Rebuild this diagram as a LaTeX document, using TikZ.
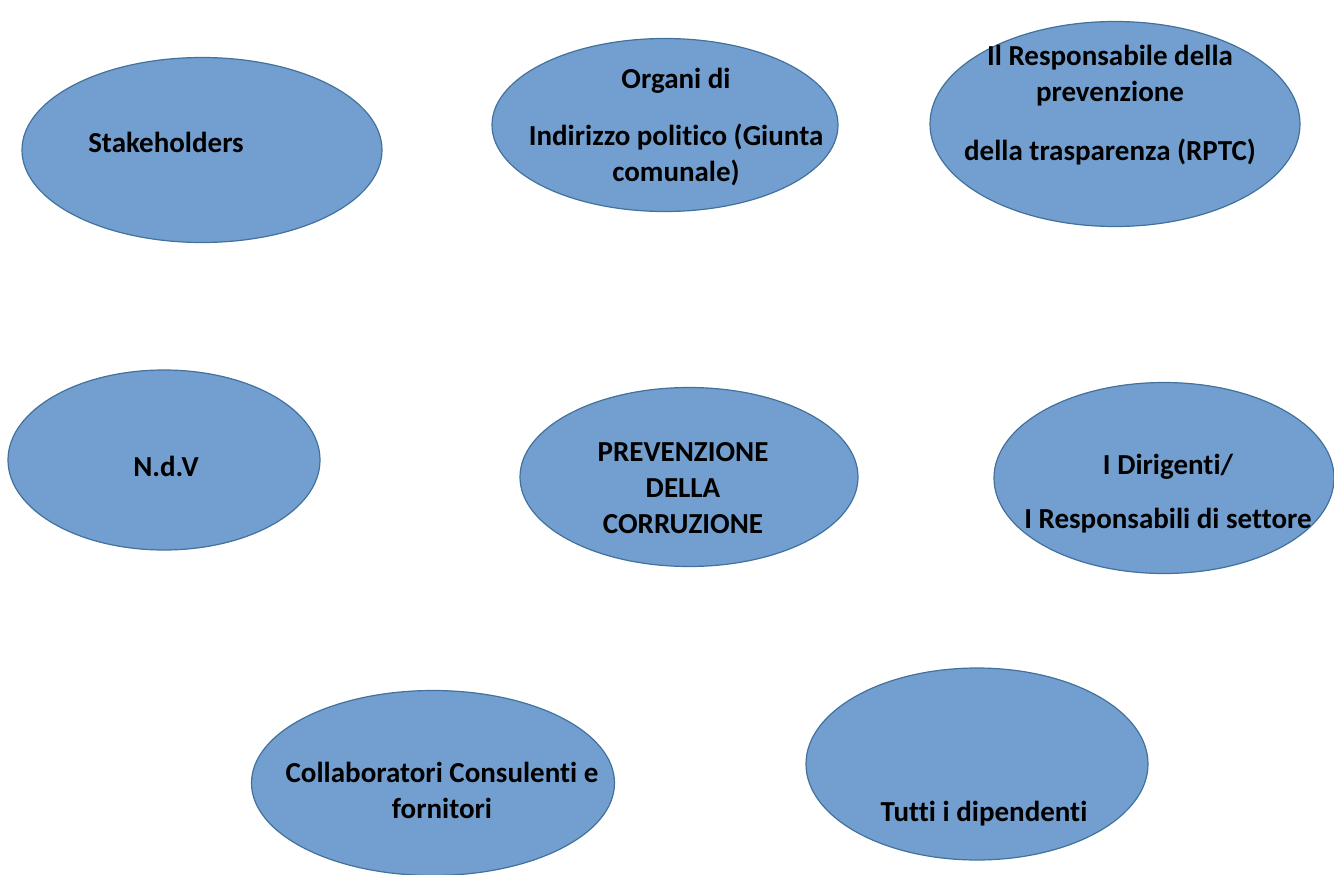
\documentclass[tikz,border=0pt]{standalone}
\usepackage{fontspec}
\setmainfont{Carlito}[Ligatures={NoCommon,NoContextual}, RawFeature={-liga;-clig;-calt}]
\usetikzlibrary{shapes.geometric}
\definecolor{ellfill}{RGB}{114,159,207}
\definecolor{elldraw}{RGB}{65,113,156}
\tikzset{
  oval/.style={ellipse, draw=elldraw, fill=ellfill, line width=1.2pt, inner sep=0pt},
  lbl/.style={align=center, font=\bfseries\fontsize{29}{36}\selectfont, text=black, inner sep=0pt}
}
\begin{document}
\begin{tikzpicture}[x=1pt,y=-1pt]
\useasboundingbox (0,0) rectangle (1334,875);
\begin{scope}
\clip (0,0) rectangle (1334,875);
\node[oval, minimum width=360pt, minimum height=185pt] (e1) at (202,150) {};
\node[oval, minimum width=346pt, minimum height=173pt] (e2) at (665,125) {};
\node[oval, minimum width=370pt, minimum height=205pt] (e3) at (1115,124) {};
\node[oval, minimum width=312pt, minimum height=180pt] (e4) at (164,460) {};
\node[oval, minimum width=338pt, minimum height=179pt] (e5) at (689,477) {};
\node[oval, minimum width=340pt, minimum height=191pt] (e6) at (1164,478) {};
\node[oval, minimum width=363pt, minimum height=185pt] (e7) at (433,783) {};
\node[oval, minimum width=342pt, minimum height=192pt] (e8) at (977,764) {};
\end{scope}
\node[lbl] (t1) at (166,142) {Stakeholders};
\node[lbl] (t2) at (676,127) {Organi di\\[21pt] Indirizzo politico (Giunta\\ comunale)};
\node[lbl] (t3) at (1110,105) {Il Responsabile della\\ prevenzione\\[23pt] della trasparenza (RPTC)};
\node[lbl] (t4) at (166,466) {N.d.V};
\node[lbl] (t5) at (683,488) {PREVENZIONE\\ DELLA\\ CORRUZIONE};
\node[lbl] (t6) at (1168,494) {I Dirigenti/\\[18pt] I Responsabili di settore};
\node[lbl] (t7) at (442,790) {Collaboratori Consulenti e\\ fornitori};
\node[lbl] (t8) at (984,814) {Tutti i dipendenti};
\end{tikzpicture}
\end{document}
